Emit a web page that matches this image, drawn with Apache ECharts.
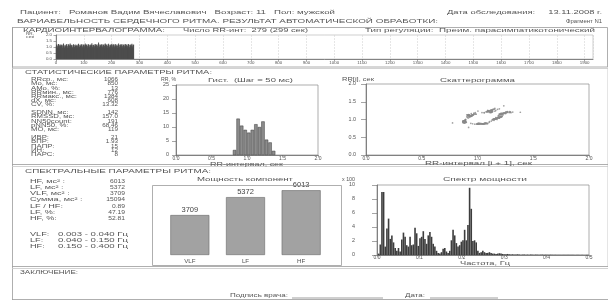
<!DOCTYPE html>
<html><head><meta charset="utf-8">
<script src="https://cdn.jsdelivr.net/npm/echarts@6/dist/echarts.min.js"></script>
<style>html,body{margin:0;padding:0;background:#fff}#c{width:614px;height:305px}</style>
</head><body><div id="c"></div>
<script>
// ---------- DATA ----------
const rrMs = [
1052,1164,1236,1088,936,872,1012,1168,1252,1132,904,884,1060,1180,1212,1104,952,868,976,1148,
1204,1120,912,876,1036,1196,1284,1148,988,892,940,1108,1188,1060,928,896,1076,1216,1256,1092,
944,880,956,1124,1228,1136,920,900,1084,1204,1292,1140,964,884,1020,1156,1196,1040,916,872,
1000,1176,1232,1156,968,890,1008,1144,1216,1076,904,776,920,1104,1188,1120,948,884,1092,1220,
1268,1128,960,878,996,1140,1212,1084,932,894,1064,1188,1244,1100,948,870,1000,1136,1204,1116,
916,884,1068,1192,1300,1196,980,888,1032,1172,1224,1088,940,876,1048,1184,1236,1100,944,880,
1016,1160,1212,1124,924,886,1076,1208,1316,1156,984,892,1004,1140,1196,1060,912,870,1056,1200,
1256,1120,956,878,1028,1164,1228,1100,930,896,1068,1204,1384,1236,1004,894,1012,1148,1208,1124,
922,880,1044,1188,1252,1116,948,876,1000,1152,1216,1132,928,884,1088,1220,1288,1180,968,886,
1024,1164,1224,1088,920,878,1060,1196,1264,1124,952,872,1008,1148,1204,1120,916,890,1072,1212,
1272,1136,964,880,1040,1176,1236,1096,928,886,1052,1192,1248,1112,944,872,992,1132,1200,1108,
912,884,1080,1212,1296,1152,976,892,1020,1160,1220,1128,920,876,1044,1180,1244,1108,940,878,
1016,1156,1208,1124,914,890,1068,1204,1260,1120,948,882,1032,1168,1228,1092,932,874,1052,1196,
1256,1164,944,880,1004,1144,1212,1128,918,884,1064,1204,1268,1132,956,876,1020,1160,1216
];
const histBinCenters = [0.825,0.875,0.925,0.975,1.025,1.075,1.125,1.175,1.225,1.275,1.325,1.375];
const histPct        = [1.8,13,10.5,9,8,9,11,10,12,5.5,4.5,1.5];
const powerCats = ['VLF','LF','HF'];
const powerVals = [3709,5372,6013];
const specStep = 0.0039;
const specVals = [
0.2,1.5,9.0,9.0,1.2,3.8,5.2,2.3,2.8,1.8,
1.0,0.6,1.0,0.5,2.2,3.2,2.6,1.4,1.2,2.6,
1.4,1.5,3.9,3.1,1.3,2.4,2.6,3.4,2.3,1.6,
2.8,3.3,2.6,1.6,1.2,0.6,0.3,0.2,0.4,0.9,
1.0,0.5,0.3,0.6,2.1,3.6,2.8,1.7,1.2,1.4,
1.9,2.1,3.6,2.1,4.3,9.6,6.6,2.0,2.1,1.8,
0.6,0.3,0.4,0.6,0.4,0.3,0.3,0.4,0.3,0.2,
0.2,0.15,0.2,0.25,0.2,0.15,0.1,0.1,0.15,0.1,
0.08,0.1,0.06,0.08,0.1,0.07,0.05,0.06,0.08,0.05,
0.06,0.05,0.07,0.05,0.04,0.06,0.05,0.04,0.05,0.06,
0.04,0.05,0.04,0.03,0.05,0.04,0.03,0.04,0.03,0.04,
0.03,0.03,0.04,0.03,0.02,0.03,0.03,0.02,0.03,0.02,
0.02,0.03,0.02,0.02,0.02,0.02,0.02,0.02
];
const statLabels = ['RRср., мс:','Mo, мс:','AMo, %:','RRмин., мс:','RRмакс., мс:','dX, мс:','CV, %:',
  'SDNN, мс:','RMSSD, мс:','NN50count:','pNN50, %:','MO, мс:',
  'ИВР:','ВПР:','ПАПР:','ИН:','ПАРС:'];
const statValues = ['1066','850','13','776','1384','608','13.32',
  '142','157.0','191','68.46','119',
  '21','1.93','15','12','8'];
const specLabels = ['HF, мс² :','LF, мс² :','VLF, мс² :','Сумма, мс² :','LF / HF:','LF, %:','HF, %:'];
const specValues = ['6013','5372','3709','15094','0.89','47.19','52.81'];
const bandNames = ['VLF:','LF:','HF:'];
const bandRanges = ['0.003 - 0.040 Гц','0.040 - 0.150 Гц','0.150 - 0.400 Гц'];

// ---------- helpers ----------
const FAM = '"Liberation Sans", Arial, sans-serif';
const TXT = '#555';
const LINE = '#9a9a9a';
const mctx = document.createElement('canvas').getContext('2d');
function mw(t, size){ mctx.font = size + 'px ' + FAM; return mctx.measureText(t).width; }
const G = [];
function T(x, y, t, size, o){
  o = o || {};
  let sx = o.sx || 1;
  if (o.w) sx = o.w / mw(t, size);
  G.push({type:'text', x:x, y:y, scaleX:sx, scaleY:1, z:10, silent:true,
    style:{text:t, font:size + 'px ' + FAM, fill:o.color || TXT,
      textAlign:o.align || 'left', textVerticalAlign:'middle', verticalAlign:'middle'}});
}
function L(x1, y1, x2, y2, c, w){
  G.push({type:'line', z:5, silent:true, shape:{x1:x1,y1:y1,x2:x2,y2:y2}, style:{stroke:c||LINE, lineWidth:w||0.8}});
}
function R(x, y, w, h, c, lw){
  G.push({type:'rect', z:5, silent:true, shape:{x:x,y:y,width:w,height:h}, style:{fill:null, stroke:c||LINE, lineWidth:lw||0.8}});
}

// ---------- header ----------
T(20, 12.5, 'Пациент:   Романов Вадим Вячеславович   Возраст: 11   Пол: мужской', 6, {w:315});
T(447, 12.5, 'Дата обследования:     13.11.2008 г.', 6, {w:155});
T(17, 21.5, 'ВАРИАБЕЛЬНОСТЬ СЕРДЕЧНОГО РИТМА. РЕЗУЛЬТАТ АВТОМАТИЧЕСКОЙ ОБРАБОТКИ:', 6, {w:421});
T(602, 21.5, 'Фрагмент N1', 6, {w:36, align:'right'});

// cardio box
R(12.5, 27.5, 595, 39.5);
T(23, 30.5, 'КАРДИОИНТЕРВАЛОГРАММА:', 5.6, {w:142});
T(183, 30.5, 'Число RR-инт:  279 (299 сек)', 5.6, {w:125});
T(365, 30.5, 'Тип регуляции:  Преим. парасимпатикотонический', 5.6, {w:230});
T(26, 33.5, 'RR,', 4, {w:8});
T(26, 37, 'сек', 4, {w:8});

// page frame & sections
L(12.5, 27, 12.5, 300);
L(607.5, 67, 607.5, 267, '#d4d4d4', 0.6);
L(12, 68.5, 608, 68.5, '#c8c8c8', 0.8);
L(12, 164.5, 608, 164.5, LINE, 0.8);
L(12, 166.5, 608, 166.5, '#c8c8c8', 0.8);
L(12, 266.5, 608, 266.5, LINE, 0.8);
L(12, 268.5, 608, 268.5, '#c8c8c8', 0.8);
L(12, 299.5, 608, 299.5, LINE, 0.8);

// statistics block
T(25, 72.5, 'СТАТИСТИЧЕСКИЕ ПАРАМЕТРЫ РИТМА:', 5.6, {w:187});
const SXS = 1.72, SXL = 1.9, SXV = 1.4;
const statY = [80,84.2,88.4,92.6,96.8,101,105.2, 113,117.2,121.4,125.6,129.8, 138,142.2,146.4,150.6,154.8];
statLabels.forEach((s,i)=>{ T(31, statY[i], s, 4.5, {sx:SXS}); T(118, statY[i], statValues[i], 4.5, {sx:SXV, align:'right'}); });

// histogram / scatter texts
T(161, 80, 'RR, %', 4.6, {w:15});
T(208, 80.5, 'Гист.  (Шаг = 50 мс)', 5, {w:85});
T(210, 164.5, 'RR-интервал, сек', 5, {w:73});
T(342, 80, 'RR[i], сек', 4.6, {w:32});
T(440, 80.5, 'Скаттерограмма', 5, {w:75});
T(425, 163.5, 'RR-интервал [i + 1], сек', 5, {w:107});

// spectral block
T(25, 171.5, 'СПЕКТРАЛЬНЫЕ ПАРАМЕТРЫ РИТМА:', 5.6, {w:186});
const specY = [182,188,194,200,206.5,212.5,218.5];
specLabels.forEach((s,i)=>{ T(30, specY[i], s, 4.8, {sx:SXL}); T(125, specY[i], specValues[i], 4.8, {sx:SXV, align:'right'}); });
const bandY = [235,241,247];
bandNames.forEach((s,i)=>{ T(30, bandY[i], s, 4.8, {sx:SXL}); T(128, bandY[i], bandRanges[i], 4.8, {w:70, align:'right'}); });

// power box
R(152.5, 185.5, 189, 80);
T(197, 180, 'Мощность компонент', 5.4, {w:96});
// spectrum texts
T(342, 180, 'x 100', 4.6, {w:13});
T(443, 180, 'Спектр мощности', 5.4, {w:84});
T(460, 263.5, 'Частота, Гц', 5, {w:50});

// conclusion
T(20, 273, 'ЗАКЛЮЧЕНИЕ:', 5.2, {w:58});
T(230, 295.5, 'Подпись врача:', 5.2, {w:58});
L(292, 298, 383, 298, '#777', 0.7);
T(405, 295.5, 'Дата:', 5.2, {w:20});
L(430, 298, 498, 298, '#777', 0.7);

// ---------- axes ----------
function ax(extra){
  return Object.assign({
    axisLine:{show:true, onZero:false, lineStyle:{color:'#6a6a6a', width:0.8}},
    axisTick:{show:true, length:2.5, lineStyle:{color:'#6a6a6a', width:0.6}},
    axisLabel:{fontSize:5.4, color:'#555', fontFamily:FAM, margin:2},
    splitLine:{show:false}
  }, extra);
}
const f1 = v => v.toFixed(1);
const f0 = v => String(v);
const lab = (size, margin, fmt) => ({fontSize:size, color:'#555', fontFamily:FAM, margin:margin, formatter:fmt});

const cardioData = rrMs.map((v,i)=>[i+1, v/1000]);
const scatterData = [];
for (let i=0;i<rrMs.length-1;i++) scatterData.push([rrMs[i+1]/1000, rrMs[i]/1000]);
const histData = histBinCenters.map((c,i)=>[c, histPct[i]]);
const specData = specVals.map((v,i)=>[(i+1)*specStep, v]);

const option = {
  animation:false,
  backgroundColor:'#ffffff',
  grid:[
    {left:56, top:35, width:537, height:24, show:true, borderColor:'#b0b0b0', borderWidth:0.6},
    {left:176, top:85, width:142, height:70, show:true, borderColor:'#8a8a8a', borderWidth:0.7},
    {left:366, top:84, width:223, height:71, show:true, borderColor:'#8a8a8a', borderWidth:0.7},
    {left:162, top:185, width:167, height:70},
    {left:377, top:185, width:212, height:70, show:true, borderColor:'#8a8a8a', borderWidth:0.7}
  ],
  xAxis:[
    ax({gridIndex:0, type:'value', min:0, max:1930, interval:100,
      axisLabel:Object.assign(lab(4.4, 2, f0), {showMaxLabel:false}),
      splitLine:{show:true, lineStyle:{color:'#cccccc', width:0.5, type:'dashed'}}}),
    ax({gridIndex:1, type:'value', min:0, max:2, interval:0.5, axisLabel:lab(5, 1, f1)}),
    ax({gridIndex:2, type:'value', min:0, max:2, interval:0.5, axisLabel:lab(5, 1, f1)}),
    ax({gridIndex:3, type:'category', data:powerCats, axisLine:{show:false}, axisTick:{show:false},
      axisLabel:lab(6.2, 3)}),
    ax({gridIndex:4, type:'value', min:0, max:0.5, interval:0.1, axisLabel:lab(5, 0, f1)})
  ],
  yAxis:[
    ax({gridIndex:0, type:'value', min:0, max:2, interval:0.5, axisLabel:lab(4.4, 4, f1)}),
    ax({gridIndex:1, type:'value', min:0, max:25, interval:5, axisTick:{show:true,length:4,lineStyle:{color:'#6a6a6a',width:0.6}}, axisLabel:lab(5.4, 7, f0)}),
    ax({gridIndex:2, type:'value', min:0, max:2, interval:0.5, axisTick:{show:true,length:5,lineStyle:{color:'#6a6a6a',width:0.6}}, axisLabel:lab(5.4, 10, f1)}),
    {gridIndex:3, type:'value', min:0, max:6500, show:false, splitLine:{show:false}},
    ax({gridIndex:4, type:'value', min:0, max:10, interval:2, axisTick:{show:true,length:5,lineStyle:{color:'#6a6a6a',width:0.6}}, axisLabel:lab(5.4, 22, f0)})
  ],
  series:[
    {type:'bar', xAxisIndex:0, yAxisIndex:0, data:cardioData, barWidth:1, itemStyle:{color:'#4d4d4d'}, silent:true},
    {type:'bar', xAxisIndex:1, yAxisIndex:1, data:histData, barWidth:3.4,
      itemStyle:{color:'#8c8c8c', borderColor:'#3a3a3a', borderWidth:0.5}, silent:true},
    {type:'scatter', xAxisIndex:2, yAxisIndex:2, data:scatterData, symbolSize:1.7,
      itemStyle:{color:'#8a8a8a'}, silent:true},
    {type:'bar', xAxisIndex:3, yAxisIndex:3, data:powerVals, barWidth:39,
      itemStyle:{color:'#a2a2a2', borderColor:'#6a6a6a', borderWidth:0.6},
      label:{show:true, position:'top', distance:1, fontSize:7.5, color:'#444', fontFamily:FAM}, silent:true},
    {type:'bar', xAxisIndex:4, yAxisIndex:4, data:specData, barWidth:1.6, itemStyle:{color:'#3d3d3d'}, silent:true}
  ],
  graphic:{elements:G}
};
const chart = echarts.init(document.getElementById('c'), null, {renderer:'canvas', width:614, height:305});
chart.setOption(option);
</script></body></html>
